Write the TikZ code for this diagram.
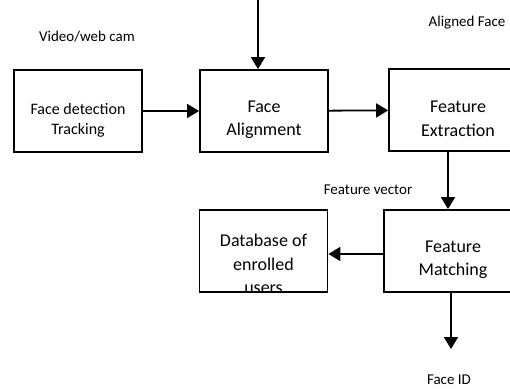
\documentclass[tikz,border=0pt]{standalone}
\usepackage{fontspec}
\setmainfont{Carlito}
\usetikzlibrary{arrows.meta,calc}
\tikzset{
  nd_blk/.style={rectangle,draw=black,line width=1.8pt,minimum width=128pt,minimum height=82pt,inner sep=0pt},
  nd_wide/.style={nd_blk,minimum width=138pt},
  txt_blk/.style={align=center,font=\fontsize{18}{23.5}\selectfont,yshift=-9pt},
  txt_small/.style={align=center,font=\fontsize{16}{20}\selectfont,yshift=-9pt},
  lbl/.style={font=\fontsize{15}{18}\selectfont,inner sep=1pt},
  arr/.style={-{Triangle[length=12pt,width=14pt]},line width=1.8pt},
}
\begin{document}
\begin{tikzpicture}[x=1pt,y=-1pt]

\clip (0,0) rectangle (510,388);

% top row
\node[nd_blk, label={[txt_small]center:Face detection\\Tracking}] at (78,111)(FD){};
\node[nd_blk, label={[txt_blk]center:Face\\Alignment}]            at (264,111)(FA){};
\node[nd_wide,label={[txt_blk]center:Feature\\Extraction}]        at (458,110)(FE){};

% second row
\node[nd_wide,label={[txt_blk]center:Feature\\Matching}] at (453,251)(FM){};
\begin{scope}
  \clip (197,207) rectangle (330,294.5);
  \node[nd_blk,label={[txt_blk,yshift=-4pt]center:Database of\\enrolled\\users}] at (263.5,251)(DB){};
\end{scope}

% labels
\node[lbl] at (87,37)  (Lcam){Video/web cam};
\node[lbl] at (467,23) (Lali){Aligned Face};
\node[lbl] at (368,190)(Lvec){Feature vector};
\node[lbl] at (449,380)(Lid) {Face ID};

\coordinate (In)  at (258,0);
\coordinate (Out) at (451,349);

\draw[arr](In)--(In |- FA.north);
\draw[arr](FD)--(FA);
\draw[arr](FA)--(FE);
\draw[arr]([xshift=-10pt]FE.south)--([xshift=-10pt]FE.south |- FM.north);
\draw[arr]([yshift=-3pt]FM.west)--([yshift=-3pt]DB.east);
\draw[arr](Out |- FM.south)--(Out);

\end{tikzpicture}
\end{document}
